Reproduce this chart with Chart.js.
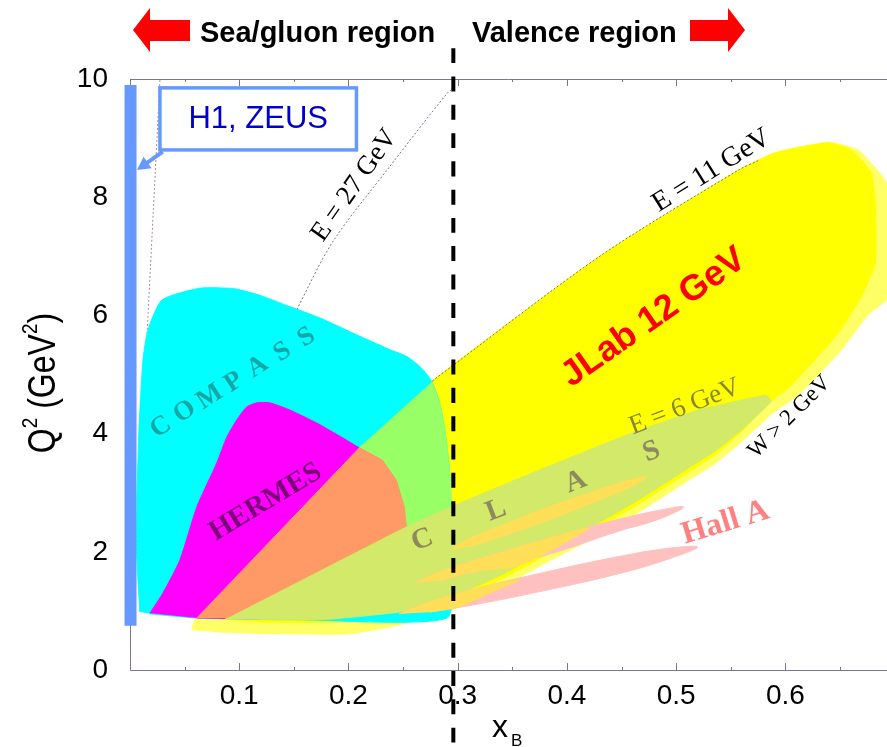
<!DOCTYPE html>
<html>
<head>
<meta charset="utf-8">
<script src="https://cdn.jsdelivr.net/npm/chart.js@4.4.1/dist/chart.umd.min.js"></script>
<style>
html,body{margin:0;padding:0;background:#ffffff;overflow:hidden;}
canvas{display:block;}
</style>
</head>
<body>
<canvas id="chart" width="887" height="747"></canvas>
<script>
// ---------- axes ----------
const xTickValues = [0.1, 0.2, 0.3, 0.4, 0.5, 0.6];
const yTickValues = [0, 2, 4, 6, 8, 10];
const xMinorTicks = [0.05, 0.1, 0.15, 0.2, 0.25, 0.3, 0.35, 0.4, 0.45, 0.5, 0.55, 0.6, 0.65];
const yMinorTicks = [2, 4, 6, 8];

// ---------- kinematic coverage regions, points are [xB, Q2] ----------
const jlabOuter = [[0.0566,0.71],[0.0612,0.91],[0.2100,3.76],[0.2767,4.89],[0.4292,6.99],[0.5571,8.46],[0.5909,8.76],[0.6393,8.93],[0.6667,8.80],[0.6913,8.29],[0.70,7.90],[0.70,6.40],[0.6758,6.01],[0.6511,5.41],[0.6119,4.65],[0.5900,4.37],[0.5616,3.89],[0.5361,3.50],[0.5114,3.21],[0.4658,2.67],[0.4292,2.28],[0.3927,1.93],[0.3379,1.39],[0.2950,1.02],[0.2457,0.76],[0.1991,0.61],[0.0950,0.63],[0.0566,0.68]];
const jlabCore = [[0.0630,0.88],[0.2100,3.76],[0.2767,4.89],[0.4292,6.99],[0.5571,8.46],[0.5909,8.75],[0.6393,8.92],[0.6603,8.80],[0.6785,8.41],[0.6822,7.90],[0.6822,6.89],[0.6694,6.31],[0.6484,5.70],[0.6237,5.18],[0.6027,4.77],[0.5845,4.52],[0.5616,4.06],[0.5361,3.65],[0.5114,3.35],[0.4658,2.81],[0.4292,2.42],[0.3927,2.06],[0.3379,1.52],[0.2950,1.15],[0.2466,0.88],[0.1826,0.81],[0.1187,0.81]];
const compass = [[0.0091,0.98],[0.0064,1.86],[0.0064,2.88],[0.0082,4.06],[0.0119,5.25],[0.0164,5.75],[0.0292,6.26],[0.0639,6.46],[0.0959,6.45],[0.1205,6.33],[0.1416,6.18],[0.1735,5.96],[0.2100,5.65],[0.2393,5.41],[0.2539,5.30],[0.2667,5.11],[0.2767,4.87],[0.2840,4.48],[0.2895,3.89],[0.2932,3.21],[0.2941,2.54],[0.2922,1.86],[0.2904,0.88],[0.1553,0.85],[0.0612,0.88],[0.0183,0.95]];
const hermes = [[0.0183,0.96],[0.0301,1.30],[0.0457,1.86],[0.0612,2.76],[0.0794,3.50],[0.0886,3.94],[0.0977,4.23],[0.1068,4.45],[0.1160,4.52],[0.1279,4.52],[0.1461,4.40],[0.1708,4.18],[0.1945,3.93],[0.2100,3.76],[0.2311,3.55],[0.2438,3.21],[0.2511,2.76],[0.2530,2.42],[0.2530,1.86],[0.2466,1.20],[0.1553,0.88],[0.0612,0.88]];
const compassJlab = [[0.2100,3.76],[0.2767,4.87],[0.2840,4.48],[0.2895,3.89],[0.2932,3.21],[0.2941,2.54],[0.2922,1.86],[0.2530,1.86],[0.2530,2.42],[0.2511,2.76],[0.2438,3.21],[0.2311,3.55]];
const hermesJlab = [[0.0612,0.88],[0.2100,3.76],[0.2311,3.55],[0.2438,3.21],[0.2511,2.76],[0.2530,2.42],[0.2530,1.86],[0.2466,1.20],[0.1553,0.88]];
const clas6 = [[0.0868,0.86],[0.0913,0.89],[0.2530,2.42],[0.2950,2.77],[0.3744,3.38],[0.4594,4.01],[0.5205,4.40],[0.5817,4.65],[0.5872,4.55],[0.5616,4.09],[0.5361,3.71],[0.5114,3.42],[0.4658,2.88],[0.4292,2.49],[0.3927,2.13],[0.3379,1.59],[0.2950,1.24],[0.2466,0.98],[0.1826,0.86],[0.1187,0.85]];
const hallAHigh = [[0.2603,1.47],[0.2831,1.66],[0.3196,1.88],[0.3836,2.23],[0.4475,2.55],[0.4840,2.70],[0.5068,2.76],[0.4840,2.55],[0.4475,2.35],[0.3836,1.96],[0.3196,1.68],[0.2831,1.51]];
const hallALow = [[0.2466,0.95],[0.2740,1.15],[0.3196,1.39],[0.3836,1.67],[0.4475,1.92],[0.4932,2.06],[0.5196,2.08],[0.4932,1.88],[0.4475,1.63],[0.3836,1.36],[0.3196,1.12],[0.2740,0.98]];
const overlapBand1 = [[0.2932,2.03],[0.3105,2.22],[0.3379,2.43],[0.3836,2.76],[0.4292,3.05],[0.4566,3.21],[0.4731,3.27],[0.4566,3.08],[0.4292,2.87],[0.3836,2.54],[0.3379,2.24],[0.3105,2.08]];
const overlapBand2 = [[0.2603,1.47],[0.2831,1.66],[0.3196,1.88],[0.3836,2.23],[0.4201,2.40],[0.3562,1.77],[0.3196,1.68],[0.2831,1.51]];
const overlapBand3 = [[0.2466,0.95],[0.2740,1.15],[0.3196,1.39],[0.3562,1.52],[0.3288,1.30],[0.3014,1.07],[0.2740,0.98]];

// ---------- kinematic limit lines ----------
const e27Line = [[0.1416,5.67],[0.1525,6.09],[0.1854,7.24],[0.2374,8.51],[0.2904,9.76],[0.2968,9.85]];
const e11Line = [[0.2767,4.89],[0.4292,6.99],[0.5571,8.46],[0.5753,8.62]];
const lowXLine = [[0.0274,9.98],[0.0044,1.60]];
const h1ZeusBar = [[0.0005,0.75],[0.0005,9.90]];
const divider = [[0.296,10.52],[0.296,-1.30]];

// ---------- helpers ----------
const pts = a => a.map(p => ({x: p[0], y: p[1]}));
function region(arr, color, tension) {
  return {data: pts(arr), fill: 'shape', backgroundColor: color, borderColor: color,
          borderWidth: 1, pointRadius: 0, tension: tension || 0};
}
function curve(arr, color, width, dash, noClip) {
  const d = {data: pts(arr), fill: false, borderColor: color, borderWidth: width,
             borderDash: dash, pointRadius: 0, tension: 0.3, borderCapStyle: 'butt'};
  if (noClip) d.clip = false;
  return d;
}

const layers = [
  curve(lowXLine, '#a98a9a', 1, [2, 2]),
  curve(e27Line, '#7d6e8e', 1, [2, 2]),
  region(jlabOuter, '#ffff66', 0.15),
  region(jlabCore, '#ffff00', 0.15),
  curve(e11Line, '#707090', 1, [2, 2]),
  region(compass, '#00ffff', 0.2),
  region(hermes, '#ff00ff', 0.2),
  region(compassJlab, '#99ff66'),
  region(hermesJlab, '#ff9966'),
  region(clas6, '#d3e96a', 0.1),
  region(hallAHigh, '#ffc0c0', 0.4),
  region(hallALow, '#ffc0c0', 0.4),
  region(overlapBand1, '#ffdf57', 0.4),
  region(overlapBand2, '#ffdf57', 0.3),
  region(overlapBand3, '#ffdf57', 0.3),
  curve(divider, '#000000', 4, [15, 13.3], true),
  curve(h1ZeusBar, '#6699ff', 12, [], true)
];
layers.forEach((d, i) => { d.order = layers.length - i; });

// ---------- annotations (text) ----------
const SERIF = "'Liberation Serif', 'Times New Roman', serif";
const SANS = "'Liberation Sans', Arial, sans-serif";
const labels = [
  {text: 'E = 27 GeV', x: 0.2055, y: 8.20, angle: -55, font: '27px ' + SERIF, color: '#000'},
  {text: 'E = 11 GeV', x: 0.5324, y: 8.45, angle: -32, font: '28px ' + SERIF, color: '#000'},
  {text: 'E = 6 GeV', x: 0.5078, y: 4.45, angle: -21, font: '27px ' + SERIF, color: '#86863a'},
  {text: 'W > 2 GeV', x: 0.6037, y: 4.28, angle: -45, font: '23px ' + SERIF, color: '#000'},
  {text: 'JLab 12 GeV', x: 0.4795, y: 5.96, angle: -35, font: 'bold 36px ' + SANS, color: '#ff0000'},
  {text: 'Hall A', x: 0.5452, y: 2.49, angle: -17, font: 'bold 32px ' + SERIF, color: '#ff8080'},
  {text: 'HERMES', x: 0.1242, y: 2.84, angle: -31, font: 'bold 29px ' + SERIF, color: '#7a007a'}
];
const compassLetters = ['C','O','M','P','A','S','S'];
const compassX = [0.0283,0.0502,0.0731,0.0950,0.1169,0.1397,0.1616];
const compassY = [4.11,4.37,4.62,4.87,5.13,5.38,5.63];
const clasLetters = ['C','L','A','S'];
const clasX = [0.2676,0.3352,0.4082,0.4776];
const clasY = [2.20,2.70,3.18,3.69];

function rotText(ctx, text, px, py, deg, font, color) {
  ctx.save();
  ctx.translate(px, py);
  ctx.rotate(deg * Math.PI / 180);
  ctx.font = font; ctx.fillStyle = color;
  ctx.textAlign = 'center'; ctx.textBaseline = 'middle';
  ctx.fillText(text, 0, 0);
  ctx.restore();
}

const decor = {
  id: 'decor',
  beforeDatasetsDraw(chart) {
    const {ctx, chartArea: a, scales: {x, y}} = chart;
    ctx.save();
    ctx.strokeStyle = '#7f7490'; ctx.lineWidth = 1;
    ctx.beginPath();
    ctx.moveTo(a.left + 0.5, a.top); ctx.lineTo(a.left + 0.5, a.bottom + 0.5); ctx.lineTo(a.right, a.bottom + 0.5);
    ctx.moveTo(a.left, a.top + 0.5); ctx.lineTo(a.right, a.top + 0.5);
    xMinorTicks.forEach(v => {
      const px = Math.round(x.getPixelForValue(v)) + 0.5;
      const major = Math.abs(v * 10 - Math.round(v * 10)) < 1e-6;
      const L = major ? 7 : 3;
      ctx.moveTo(px, a.bottom); ctx.lineTo(px, a.bottom - L);
      ctx.moveTo(px, a.top); ctx.lineTo(px, a.top + L);
    });
    yMinorTicks.forEach(v => {
      const py = Math.round(y.getPixelForValue(v)) + 0.5;
      ctx.moveTo(a.left, py); ctx.lineTo(a.left + 6, py);
    });
    ctx.stroke();
    ctx.restore();
  },
  afterDatasetsDraw(chart) {
    const {ctx, scales: {x, y}} = chart;
    const X = v => x.getPixelForValue(v), Y = v => y.getPixelForValue(v);
    ctx.save();
    // region labels
    labels.forEach(l => rotText(ctx, l.text, X(l.x), Y(l.y), l.angle, l.font, l.color));
    compassLetters.forEach((c, i) => rotText(ctx, c, X(compassX[i]), Y(compassY[i]), -33, 'bold 27px ' + SERIF, '#16a6a6'));
    clasLetters.forEach((c, i) => rotText(ctx, c, X(clasX[i]), Y(clasY[i]), -21, 'bold 29px ' + SERIF, '#8c8a5e'));

    // H1, ZEUS box
    const bx0 = X(0.0274), by0 = Y(9.85), bx1 = X(0.2073), by1 = Y(8.80);
    ctx.fillStyle = '#ffffff'; ctx.fillRect(bx0, by0, bx1 - bx0, by1 - by0);
    ctx.strokeStyle = '#6699ff'; ctx.lineWidth = 3.5;
    ctx.strokeRect(bx0, by0, bx1 - bx0, by1 - by0);
    ctx.font = '31px ' + SANS; ctx.fillStyle = '#0000cc';
    ctx.textAlign = 'center'; ctx.textBaseline = 'middle';
    ctx.fillText('H1, ZEUS', (bx0 + bx1) / 2, (by0 + by1) / 2 + 1);
    // arrow to the bar
    const sx = X(0.0301), sy = Y(8.77), tx = X(0.0064), ty = Y(8.46);
    const dx = tx - sx, dy = ty - sy, len = Math.hypot(dx, dy), ux = dx / len, uy = dy / len;
    ctx.strokeStyle = '#6699ff'; ctx.lineWidth = 4;
    ctx.beginPath(); ctx.moveTo(sx, sy); ctx.lineTo(tx - ux * 10, ty - uy * 10); ctx.stroke();
    ctx.fillStyle = '#6699ff';
    ctx.beginPath();
    ctx.moveTo(tx, ty);
    ctx.lineTo(tx - ux * 13 - uy * 7, ty - uy * 13 + ux * 7);
    ctx.lineTo(tx - ux * 13 + uy * 7, ty - uy * 13 - ux * 7);
    ctx.closePath(); ctx.fill();

    // top region headers with red arrows
    ctx.fillStyle = '#ff0000';
    ctx.beginPath();
    ctx.moveTo(133, 30); ctx.lineTo(150, 8); ctx.lineTo(150, 20); ctx.lineTo(190, 20);
    ctx.lineTo(190, 41); ctx.lineTo(150, 41); ctx.lineTo(150, 52); ctx.closePath(); ctx.fill();
    ctx.beginPath();
    ctx.moveTo(745, 30); ctx.lineTo(728, 8); ctx.lineTo(728, 20); ctx.lineTo(690, 20);
    ctx.lineTo(690, 41); ctx.lineTo(728, 41); ctx.lineTo(728, 52); ctx.closePath(); ctx.fill();
    ctx.fillStyle = '#000'; ctx.font = 'bold 29px ' + SANS;
    ctx.textAlign = 'left'; ctx.textBaseline = 'alphabetic';
    ctx.fillText('Sea/gluon region', 200, 42);
    ctx.fillText('Valence region', 472, 42);

    // axis titles
    ctx.save();
    ctx.translate(55, 383); ctx.rotate(-Math.PI / 2); ctx.scale(1, 1.2);
    const big = '32px ' + SANS, sm = '19px ' + SANS;
    const parts = [['Q', big, 0], ['2', sm, -15], [' (GeV', big, 0], ['2', sm, -15], [')', big, 0]];
    let total = 0;
    parts.forEach(p => { ctx.font = p[1]; total += ctx.measureText(p[0]).width; });
    let cx = -total / 2;
    ctx.textAlign = 'left'; ctx.textBaseline = 'alphabetic'; ctx.fillStyle = '#000';
    parts.forEach(p => { ctx.font = p[1]; ctx.fillText(p[0], cx, p[2]); cx += ctx.measureText(p[0]).width; });
    ctx.restore();
    ctx.fillStyle = '#000'; ctx.textAlign = 'left'; ctx.textBaseline = 'alphabetic';
    ctx.font = '32px ' + SANS; ctx.fillText('x', 492, 737);
    ctx.font = '17px ' + SANS; ctx.fillText('B', 511, 746);
    ctx.restore();
  }
};

new Chart(document.getElementById('chart'), {
  type: 'line',
  data: {datasets: layers},
  options: {
    responsive: false,
    animation: false,
    devicePixelRatio: 1,
    events: [],
    layout: {padding: {top: 79, left: 0, right: 0, bottom: 0}},
    plugins: {legend: {display: false}, tooltip: {enabled: false}},
    scales: {
      x: {
        type: 'linear', min: 0, max: 0.693, position: 'bottom',
        grid: {display: false, drawTicks: false}, border: {display: false},
        afterBuildTicks: s => { s.ticks = xTickValues.map(v => ({value: v})); },
        afterFit: s => { s.height = 77; },
        ticks: {padding: 9, color: '#000', maxRotation: 0, autoSkip: false,
                font: {family: SANS, size: 28}, callback: v => Number(v).toFixed(1)}
      },
      y: {
        type: 'linear', min: 0, max: 10,
        grid: {display: false, drawTicks: false}, border: {display: false},
        afterBuildTicks: s => { s.ticks = yTickValues.map(v => ({value: v})); },
        afterFit: s => { s.width = 130; },
        ticks: {padding: 22, color: '#000', autoSkip: false,
                font: {family: SANS, size: 28}, callback: v => String(v)}
      }
    }
  },
  plugins: [decor]
});
</script>
</body>
</html>
